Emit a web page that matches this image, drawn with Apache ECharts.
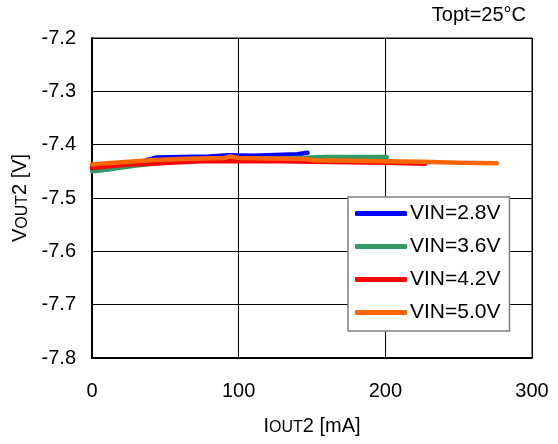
<!DOCTYPE html>
<html>
<head>
<meta charset="utf-8">
<script src="https://cdn.jsdelivr.net/npm/echarts@6/dist/echarts.min.js"></script>
<style>
html,body{margin:0;padding:0;background:#fff;}
#chart{width:558px;height:444px;}
</style>
</head>
<body>
<div id="chart"></div>
<script>
// ---- data ----
var seriesNames = ['VIN=2.8V', 'VIN=3.6V', 'VIN=4.2V', 'VIN=5.0V'];

var vin28X = [0, 10, 20, 30, 36, 44, 60, 80, 93, 110, 130, 140, 147];
var vin28Y = [-7.443, -7.440, -7.437, -7.434, -7.430, -7.424, -7.423, -7.422, -7.420, -7.421, -7.419, -7.418, -7.415];

var vin36X = [0, 10, 20, 30, 45, 60, 80, 100, 120, 140, 160, 180, 201];
var vin36Y = [-7.450, -7.447, -7.443, -7.439, -7.435, -7.431, -7.428, -7.427, -7.426, -7.425, -7.423, -7.423, -7.423];

var vin42X = [0, 10, 20, 40, 60, 75, 100, 130, 150, 175, 200, 215, 227];
var vin42Y = [-7.444, -7.441, -7.438, -7.436, -7.433, -7.431, -7.431, -7.431, -7.432, -7.433, -7.434, -7.435, -7.436];

var vin50X = [0, 10, 20, 30, 40, 60, 75, 90, 94, 100, 120, 145, 150, 175, 200, 225, 250, 276];
var vin50Y = [-7.437, -7.435, -7.433, -7.431, -7.429, -7.427, -7.426, -7.425, -7.422, -7.425, -7.426, -7.427, -7.429, -7.430, -7.431, -7.432, -7.434, -7.435];

var xTicks = [0, 100, 200, 300];
var yTicks = [-7.8, -7.7, -7.6, -7.5, -7.4, -7.3, -7.2];

function pairs(xs, ys) { return xs.map(function (x, i) { return [x, ys[i]]; }); }

var colors = ['#0000ff', '#339966', '#ff0000', '#ff6600'];
var dataSets = [pairs(vin28X, vin28Y), pairs(vin36X, vin36Y), pairs(vin42X, vin42Y), pairs(vin50X, vin50Y)];

var FONT = 'Arial, "Liberation Sans", sans-serif';

var chart = echarts.init(document.getElementById('chart'), null, {renderer: 'canvas'});
chart.setOption({
  animation: false,
  backgroundColor: '#ffffff',
  textStyle: {fontFamily: FONT, color: '#000'},
  title: {
    text: 'Topt=25°C',
    right: 32, top: 5, padding: 0,
    textStyle: {fontFamily: FONT, fontSize: 20, fontWeight: 'normal', color: '#000'}
  },
  grid: {
    left: 92, right: 26, top: 38, bottom: 86,
    show: true, borderColor: '#000', borderWidth: 1, backgroundColor: 'transparent'
  },
  legend: {
    orient: 'vertical',
    left: 348, top: 197,
    padding: [6, 9, 8, 7],
    itemGap: 12,
    itemWidth: 52,
    itemHeight: 5,
    icon: 'roundRect',
    backgroundColor: '#fff',
    borderColor: '#808080',
    borderWidth: 1.5,
    borderRadius: 0,
    textStyle: {fontFamily: FONT, fontSize: 21, color: '#000', padding: [0, 0, 0, -2]},
    data: seriesNames
  },
  xAxis: {
    type: 'value',
    min: xTicks[0], max: xTicks[xTicks.length - 1], interval: 100,
    axisLine: {show: true, onZero: false, lineStyle: {color: '#000', width: 2}},
    axisTick: {show: false},
    splitLine: {show: true, lineStyle: {color: '#000', width: 1}},
    axisLabel: {fontFamily: FONT, fontSize: 20, color: '#000', margin: 23},
    name: '{a|I}{b|OUT}{a|2 [mA]}',
    nameLocation: 'middle',
    nameGap: 58,
    nameTextStyle: {
      rich: {
        a: {fontFamily: FONT, fontSize: 20, color: '#000', verticalAlign: 'bottom', lineHeight: 20},
        b: {fontFamily: FONT, fontSize: 16, color: '#000', verticalAlign: 'bottom', lineHeight: 17}
      }
    }
  },
  yAxis: {
    type: 'value',
    min: yTicks[0], max: yTicks[yTicks.length - 1], interval: 0.1,
    axisLine: {show: true, onZero: false, lineStyle: {color: '#000', width: 2}},
    axisTick: {show: false},
    splitLine: {show: true, lineStyle: {color: '#000', width: 1}},
    axisLabel: {
      fontFamily: FONT, fontSize: 20, color: '#000', margin: 16,
      formatter: function (v) { return v.toFixed(1); }
    },
    name: '{a|V}{b|OUT}{a|2 [V]}',
    nameLocation: 'middle',
    nameGap: 56,
    nameRotate: 90,
    nameTextStyle: {
      rich: {
        a: {fontFamily: FONT, fontSize: 20, color: '#000', verticalAlign: 'bottom', lineHeight: 20},
        b: {fontFamily: FONT, fontSize: 16, color: '#000', verticalAlign: 'bottom', lineHeight: 17}
      }
    }
  },
  series: seriesNames.map(function (name, i) {
    return {
      name: name,
      type: 'line',
      data: dataSets[i],
      showSymbol: false,
      symbol: 'none',
      smooth: false,
      color: colors[i],
      lineStyle: {color: colors[i], width: 4.5, cap: 'round', join: 'round'},
      z: 2 + i
    };
  })
});
</script>
</body>
</html>
